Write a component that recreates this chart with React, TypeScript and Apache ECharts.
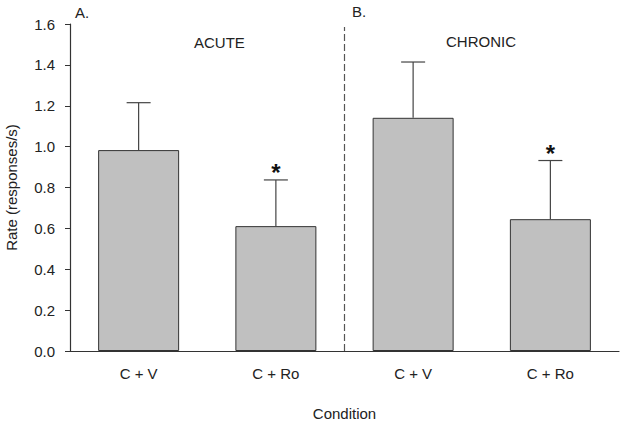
import React, { useEffect, useRef } from "react";
import * as echarts from "echarts";

const categories = ["C + V", "C + Ro", "C + V", "C + Ro"];
const means = [0.983, 0.611, 1.141, 0.645];
const upperErr = [1.215, 0.837, 1.414, 0.932];
const significant = [false, true, false, true];
const panelLabels = ["A.", "B."];
const panelTitles = ["ACUTE", "CHRONIC"];
const dividerPos = 2;
const dividerTop = 1.585;

const FONT = "Liberation Sans, Arial, sans-serif";
const TXT = "#222";
const FS = 15;

export default function App() {
  const ref = useRef<HTMLDivElement>(null);
  useEffect(() => {
    document.body.style.margin = "0";
    if (!ref.current) return;
    const chart = echarts.init(ref.current, undefined, { renderer: "svg" });
    const option: any = {
      animation: false,
      textStyle: { fontFamily: FONT },
      grid: { left: 70, right: 5, top: 24, bottom: 71, containLabel: false, outerBoundsMode: "none" },
      xAxis: [
        {
          type: "category",
          data: categories,
          axisLine: { lineStyle: { color: "#333", width: 1.2 } },
          axisTick: { alignWithLabel: true, length: 5, lineStyle: { color: "#333" } },
          axisLabel: { color: TXT, fontSize: FS, fontFamily: FONT, margin: 15 },
          name: "Condition",
          nameLocation: "middle",
          nameGap: 55,
          nameTextStyle: { color: TXT, fontSize: FS, fontFamily: FONT },
        },
        { type: "value", min: 0, max: 4, show: false },
      ],
      yAxis: {
        type: "value",
        min: 0,
        max: 1.6,
        interval: 0.2,
        offset: 3,
        axisLine: { show: true, lineStyle: { color: "#333", width: 1.2 } },
        axisTick: { show: true, length: 5, lineStyle: { color: "#333" } },
        splitLine: { show: false },
        axisLabel: {
          color: TXT,
          fontSize: FS,
          fontFamily: FONT,
          margin: 12,
          formatter: (v: number) => v.toFixed(1),
        },
        name: "Rate (responses/s)",
        nameLocation: "middle",
        nameGap: 48,
        nameTextStyle: { color: TXT, fontSize: FS, fontFamily: FONT },
      },
      series: [
        {
          type: "bar",
          data: means,
          barWidth: 81,
          itemStyle: { color: "#c0c0c0", borderColor: "#333", borderWidth: 1 },
          z: 2,
        },
        {
          type: "custom",
          z: 3,
          data: means.map((m, i) => [i, m, upperErr[i], significant[i] ? 1 : 0]),
          renderItem: (params: any, api: any) => {
            const x = api.value(0);
            const base = api.coord([x, api.value(1)]);
            const top = api.coord([x, api.value(2)]);
            const half = 12;
            const children: any[] = [
              {
                type: "line",
                shape: { x1: base[0], y1: base[1], x2: top[0], y2: top[1] },
                style: { stroke: "#444", lineWidth: 1.2 },
              },
              {
                type: "line",
                shape: { x1: top[0] - half, y1: top[1], x2: top[0] + half, y2: top[1] },
                style: { stroke: "#444", lineWidth: 1.2 },
              },
            ];
            if (api.value(3) === 1) {
              children.push({
                type: "text",
                x: top[0],
                y: top[1] + 5,
                style: {
                  text: "*",
                  fontSize: 24,
                  fontWeight: "bold",
                  fontFamily: FONT,
                  fill: "#111",
                  align: "center",
                  verticalAlign: "bottom",
                },
              });
            }
            return { type: "group", children };
          },
        },
        {
          type: "line",
          xAxisIndex: 1,
          data: [
            [dividerPos, 0],
            [dividerPos, dividerTop],
          ],
          symbol: "none",
          lineStyle: { color: "#555", width: 1.2, type: [7, 3] },
          z: 1,
        },
      ],
      graphic: [
        { type: "text", left: 75, top: 5, style: { text: panelLabels[0], fontSize: FS, fontFamily: FONT, fill: TXT } },
        { type: "text", left: 352, top: 4, style: { text: panelLabels[1], fontSize: FS, fontFamily: FONT, fill: TXT } },
        { type: "text", left: 194, top: 35, style: { text: panelTitles[0], fontSize: FS, fontFamily: FONT, fill: TXT } },
        { type: "text", left: 446, top: 34, style: { text: panelTitles[1], fontSize: FS, fontFamily: FONT, fill: TXT } },
      ],
    };
    chart.setOption(option);
    return () => chart.dispose();
  }, []);
  return <div ref={ref} style={{ width: 624, height: 422 }} />;
}
